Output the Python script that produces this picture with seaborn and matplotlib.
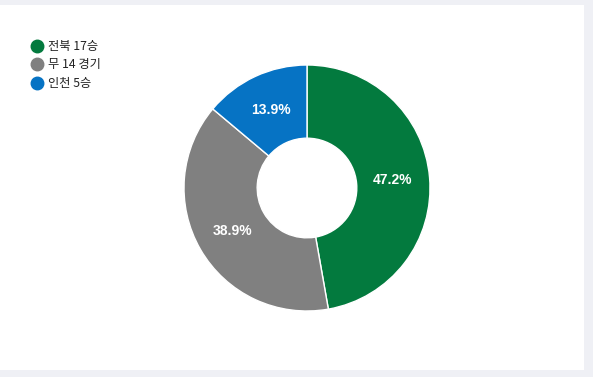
import matplotlib.pyplot as plt
import seaborn as sns
from matplotlib.patches import Rectangle
from matplotlib.lines import Line2D

# results data
labels = ["전북 17승", "무 14 경기", "인천 5승"]
counts = [17, 14, 5]
colors = ["#037a3e", "#808080", "#0673c4"]


def main():
    sns.set_theme(style="white")
    plt.rcParams['font.family'] = ['Noto Sans CJK KR', 'DejaVu Sans']

    fig = plt.figure(figsize=(5.93, 3.77), dpi=100, facecolor="#eff0f5")
    # white card behind everything
    fig.patches.append(Rectangle((0, 7 / 377), 584 / 593, 365 / 377, transform=fig.transFigure,
                                 facecolor="white", edgecolor="none", zorder=-5))

    ax = fig.add_axes([184 / 593, 66 / 377, 246 / 593, 246 / 377])
    ax.patch.set_alpha(0)
    wedges, texts, autotexts = ax.pie(
        counts, colors=colors, startangle=90, counterclock=False, radius=1,
        wedgeprops=dict(width=0.595, edgecolor="white", linewidth=1),
        autopct="%.1f%%", pctdistance=0.70,
        textprops=dict(color="white", fontsize=10, fontweight="bold", family=["Arial", "Liberation Sans", "DejaVu Sans"]))
    ax.set_xlim(-1, 1)
    ax.set_ylim(-1, 1)
    ax.set_aspect("equal")
    ax.axis("off")

    handles = [Line2D([], [], marker="o", linestyle="none", markersize=9,
                      markerfacecolor=c, markeredgecolor=c) for c in colors]
    fig.legend(handles, labels, loc="upper left", bbox_to_anchor=(25 / 593, 1 - 35 / 377),
               frameon=False, fontsize=8.8, handletextpad=0.3, labelspacing=0.45,
               handlelength=1.2, borderaxespad=0, labelcolor="#222222")

    fig.savefig("out.png", dpi=100, facecolor=fig.get_facecolor())


if __name__ == "__main__":
    main()
